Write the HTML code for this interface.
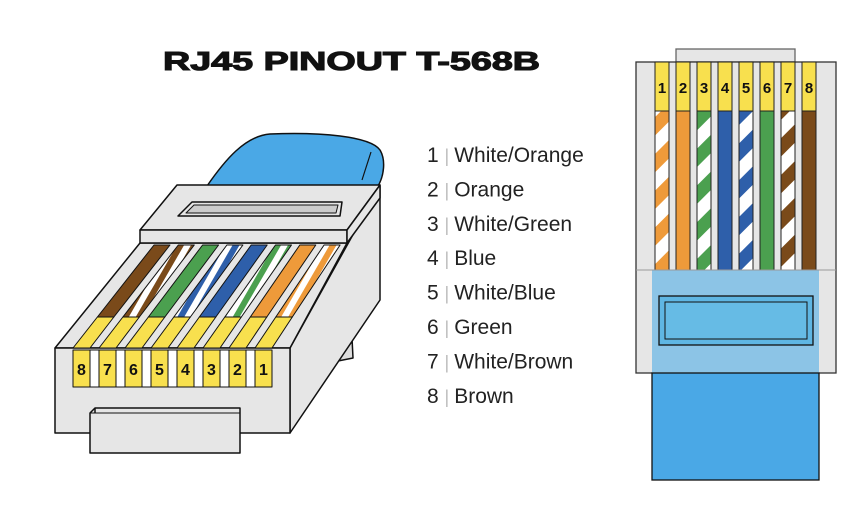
<!DOCTYPE html>
<html><head><meta charset="utf-8"><style>
html,body{margin:0;padding:0;background:#fff;}
svg{display:block;font-family:"Liberation Sans",Arial,sans-serif;}
</style></head><body>
<svg id="art" width="859" height="521" viewBox="0 0 859 521">
<defs>
<pattern id="st-orange" width="26" height="26" patternUnits="userSpaceOnUse" patternTransform="rotate(-45)"><rect width="26" height="26" fill="#fff"/><rect width="26" height="13" fill="#EE9A3A"/></pattern>
<pattern id="st-green" width="26" height="26" patternUnits="userSpaceOnUse" patternTransform="rotate(-45)"><rect width="26" height="26" fill="#fff"/><rect width="26" height="13" fill="#4BA04F"/></pattern>
<pattern id="st-blue" width="26" height="26" patternUnits="userSpaceOnUse" patternTransform="rotate(-45)"><rect width="26" height="26" fill="#fff"/><rect width="26" height="13" fill="#2E5FAA"/></pattern>
<pattern id="st-brown" width="26" height="26" patternUnits="userSpaceOnUse" patternTransform="rotate(-45)"><rect width="26" height="26" fill="#fff"/><rect width="26" height="13" fill="#7A4A1A"/></pattern>
<pattern id="sl-orange" width="12" height="12" patternUnits="userSpaceOnUse" patternTransform="rotate(-60)"><rect width="12" height="12" fill="#fff"/><rect width="12" height="6" fill="#EE9A3A"/></pattern>
<pattern id="sl-green" width="12" height="12" patternUnits="userSpaceOnUse" patternTransform="rotate(-60)"><rect width="12" height="12" fill="#fff"/><rect width="12" height="6" fill="#4BA04F"/></pattern>
<pattern id="sl-blue" width="12" height="12" patternUnits="userSpaceOnUse" patternTransform="rotate(-60)"><rect width="12" height="12" fill="#fff"/><rect width="12" height="6" fill="#2E5FAA"/></pattern>
<pattern id="sl-brown" width="12" height="12" patternUnits="userSpaceOnUse" patternTransform="rotate(-60)"><rect width="12" height="12" fill="#fff"/><rect width="12" height="6" fill="#7A4A1A"/></pattern>
</defs>

<text x="163" y="70" font-size="26" font-weight="bold" fill="#111" stroke="#111" stroke-width="1.1" textLength="377" lengthAdjust="spacingAndGlyphs">RJ45 PINOUT  T-568B</text>

<!-- Left connector -->
<g stroke="#111" stroke-width="1.5" stroke-linejoin="round">
  <path d="M207,186 C225,160 245,136 270,134 C320,132 370,136 380,150 C386,160 384,176 378,186 Z" fill="#4AA8E6"/>
  <line x1="362" y1="180" x2="371" y2="152" stroke-width="1.2"/>
  <path d="M333,342 L352,338 L353,358 L333,362 Z" fill="#ddd"/>
  <path d="M290,348 L380,186 L380,300 L290,433 Z" fill="#E6E6E6"/>
  <path d="M140,243 L347,243 L290,348 L55,348 Z" fill="#E6E6E6"/>
  <path d="M140,230 L177,185 L380,185 L347,230 Z" fill="#E6E6E6"/>
  <path d="M140,230 L347,230 L347,243 L140,243 Z" fill="#E6E6E6"/>
  <path d="M347,230 L380,185 L380,198 L347,243 Z" fill="#E6E6E6"/>
  <path d="M178,216 L340,216 L342,202 L192,202 Z" fill="#E6E6E6"/>
  <path d="M186,213 L336,213 L338,205 L194,205 Z" fill="#ccc" stroke-width="1"/>
  <rect x="55" y="348" width="235" height="85" fill="#E6E6E6"/>
  <g id="leftPins"></g>
  <path d="M90,413 L95,408 L240,408 L240,453 L90,453 Z" fill="#E6E6E6"/>
  <line x1="95" y1="408" x2="95" y2="413"/>
  <line x1="90" y1="413" x2="240" y2="413" stroke-width="1"/>
</g>

<!-- Legend -->
<g id="legend" font-size="21" fill="#222"></g>

<!-- Right connector -->
<g stroke="#111" stroke-width="1.3">
  <rect x="676" y="49" width="119" height="13" fill="#E6E6E6" stroke="#666"/>
  <rect x="636" y="62" width="200" height="311" fill="#E6E6E6" stroke="#333"/>
  <g id="rightPins"></g>
  <rect x="652" y="270" width="167" height="103" fill="#8CC4E6" stroke="none"/>
  <line x1="636" y1="270" x2="836" y2="270" stroke="#999" stroke-width="1"/>
  <rect x="659" y="296" width="154" height="49" fill="#5FB6E3"/>
  <rect x="665" y="302" width="142" height="37" fill="#66BBE5" stroke-width="1"/>
  <rect x="652" y="373" width="167" height="107" fill="#4AA8E6"/>
</g>
</svg>
<script>
const pinNumbers = [1,2,3,4,5,6,7,8];
const pinNames = ["White/Orange","Orange","White/Green","Blue","White/Blue","Green","White/Brown","Brown"];
const pinColors = ["orange","orange","green","blue","blue","green","brown","brown"];
const pinStriped = [true,false,true,false,true,false,true,false];
const solid = {orange:"#EE9A3A",green:"#4BA04F",blue:"#2E5FAA",brown:"#7A4A1A"};
const NS = "http://www.w3.org/2000/svg";
function mk(tag, attrs, parent){const e=document.createElementNS(NS,tag);for(const k in attrs)e.setAttribute(k,attrs[k]);parent.appendChild(e);return e;}

const lg = document.getElementById('legend');
pinNumbers.forEach((n,i)=>{
  const y = 162 + i*34.4;
  const t = mk('text',{x:427,y:y},lg);
  
  
  t.textContent = n + ' ';
  const s = mk('tspan',{fill:'#bbb','font-size':'18'},t); s.textContent='| ';
  const w = mk('tspan',{},t); w.textContent=pinNames[i];
});

const rp = document.getElementById('rightPins');
pinNumbers.forEach((n,i)=>{
  const x = 655 + i*21;
  const fill = pinStriped[i] ? 'url(#st-'+pinColors[i]+')' : solid[pinColors[i]];
  const w = mk('rect',{x:x,y:111,width:14,height:159,fill:fill,stroke:'#222','stroke-width':'1'},rp);
  
  
  const p = mk('rect',{x:x,y:62,width:14,height:49,fill:'#F8E04E',stroke:'#222','stroke-width':'1'},rp);
  
  
  const t = mk('text',{x:x+7,y:93,'text-anchor':'middle','font-size':'15','font-weight':'bold',fill:'#111',stroke:'none'},rp);
  
  
  t.textContent = n;
});

const lp = document.getElementById('leftPins');
for(let j=0;j<8;j++){
  const i = 7-j;
  const n = pinNumbers[i];
  const tx = 154 + j*24.3, bx = 73 + j*26;
  const yT=245, yM=317, yB=348;
  const xm = tx + (bx-tx)*(yM-yT)/(yB-yT);
  const fill = pinStriped[i] ? 'url(#sl-'+pinColors[i]+')' : solid[pinColors[i]];
  const w = mk('path',{d:`M${tx},${yT} L${tx+16},${yT} L${xm+16.5},${yM} L${xm},${yM} Z`,fill:fill,'stroke-width':'1'},lp);
  
  
  const y = mk('path',{d:`M${xm},${yM} L${xm+16.5},${yM} L${bx+17},${yB} L${bx},${yB} Z`,fill:'#F8E04E','stroke-width':'1'},lp);
  
  
  if(j<7){ mk('rect',{x:bx+17,y:350,width:9,height:37,fill:'#fff','stroke-width':'1'},lp); }
  const f = mk('rect',{x:bx,y:350,width:17,height:37,fill:'#F8E04E','stroke-width':'1'},lp);
  
  
  const t = mk('text',{x:bx+8.5,y:375,'text-anchor':'middle','font-size':'16','font-weight':'bold',fill:'#111',stroke:'none'},lp);
  
  
  t.textContent = n;
}
</script>
</body></html>
